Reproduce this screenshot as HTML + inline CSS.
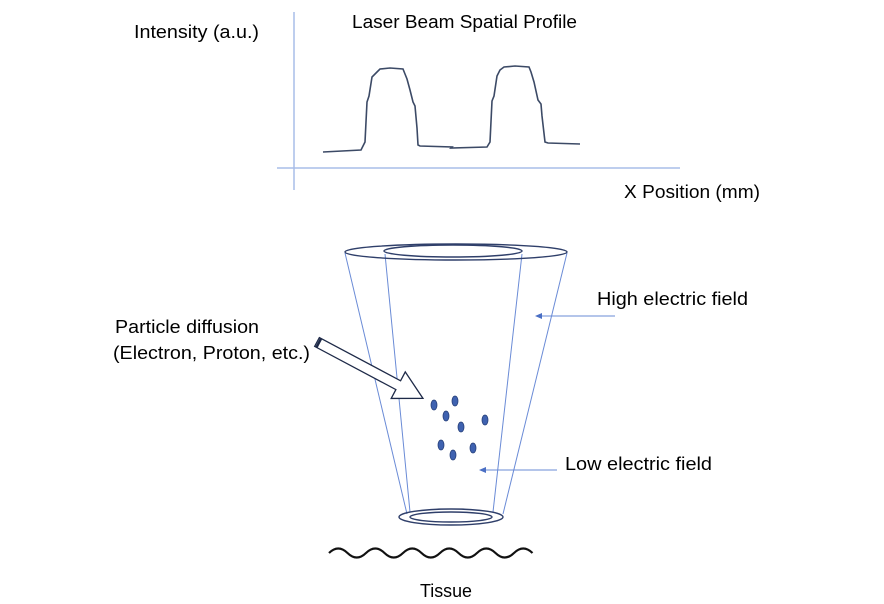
<!DOCTYPE html>
<html><head><style>
html,body{margin:0;padding:0;background:#fff;}
svg{display:block;}
text{font-family:"Liberation Sans",sans-serif;font-size:18px;fill:#000;}
</style></head><body>
<svg width="884" height="604" viewBox="0 0 884 604">
<line x1="294" y1="12" x2="294" y2="190" stroke="#a9bde8" stroke-width="1.5"/>
<line x1="277" y1="168" x2="680" y2="168" stroke="#a9bde8" stroke-width="1.5"/>
<text x="134" y="38" textLength="125" lengthAdjust="spacingAndGlyphs">Intensity (a.u.)</text>
<text x="352" y="28" textLength="225" lengthAdjust="spacingAndGlyphs">Laser Beam Spatial Profile</text>
<text x="624" y="198" textLength="136" lengthAdjust="spacingAndGlyphs">X Position (mm)</text>
<polyline fill="none" stroke="#3c4a66" stroke-width="1.6" points="323,152 361,150 365,142 367,102 369,96 372,77 377,72 380,69 390,68 403,69 405,74 407,79 410,90 413,102 415,106 417,128 418,145 420,146 452,147 451,148 487,147 490,142 492,101 494,96 497,76 500,70 504,67 515,66 529,67 531,72 534,82 538,100 541,104 542,116 545,142 548,143 580,144"/>
<g fill="none" stroke="#6a8bd6" stroke-width="1">
<line x1="345" y1="253" x2="407" y2="514"/>
<line x1="567" y1="253" x2="503" y2="514"/>
<line x1="385" y1="254" x2="410" y2="512"/>
<line x1="522" y1="254" x2="493" y2="512"/>
</g>
<g fill="none" stroke="#2f3f6a" stroke-width="1.4">
<ellipse cx="456" cy="252" rx="111" ry="8"/>
<ellipse cx="453" cy="251" rx="69" ry="6"/>
<ellipse cx="451" cy="517" rx="52" ry="8"/>
<ellipse cx="451" cy="517" rx="41" ry="5"/>
</g>
<g transform="translate(317,342) rotate(28)">
<path d="M0,-5 L92,-5 L92,-15 L120,0 L92,15 L92,5 L0,5 Z" fill="#fff" stroke="#1e2a48" stroke-width="1.3"/>
<line x1="2" y1="-5" x2="2" y2="5" stroke="#1e2a48" stroke-width="2.5"/>
</g>
<g fill="#3f62b0" stroke="#27407a" stroke-width="0.8">
<ellipse cx="434" cy="405" rx="3" ry="5"/>
<ellipse cx="455" cy="401" rx="3" ry="5"/>
<ellipse cx="446" cy="416" rx="3" ry="5"/>
<ellipse cx="461" cy="427" rx="3" ry="5"/>
<ellipse cx="485" cy="420" rx="3" ry="5"/>
<ellipse cx="441" cy="445" rx="3" ry="5"/>
<ellipse cx="453" cy="455" rx="3" ry="5"/>
<ellipse cx="473" cy="448" rx="3" ry="5"/>
</g>
<g stroke="#6a8bd6" stroke-width="1" fill="#4a6fc4">
<line x1="540" y1="316" x2="615" y2="316"/>
<path d="M535,316 L542,313 L542,319 Z" stroke="none"/>
<line x1="485" y1="470" x2="557" y2="470"/>
<path d="M479,470 L486,467 L486,473 Z" stroke="none"/>
</g>
<text x="597" y="305" textLength="151" lengthAdjust="spacingAndGlyphs">High electric field</text>
<text x="565" y="470" textLength="147" lengthAdjust="spacingAndGlyphs">Low electric field</text>
<text x="115" y="333" textLength="144" lengthAdjust="spacingAndGlyphs">Particle diffusion</text>
<text x="113" y="359" textLength="197" lengthAdjust="spacingAndGlyphs">(Electron, Proton, etc.)</text>
<path fill="none" stroke="#111" stroke-width="2.2" d="M329,553 q9.25,-9 18.5,0 t18.5,0 t18.5,0 t18.5,0 t18.5,0 t18.5,0 t18.5,0 t18.5,0 t18.5,0 t18.5,0 t18.5,0"/>
<text x="420" y="597" textLength="52" lengthAdjust="spacingAndGlyphs">Tissue</text>
</svg>
</body></html>
